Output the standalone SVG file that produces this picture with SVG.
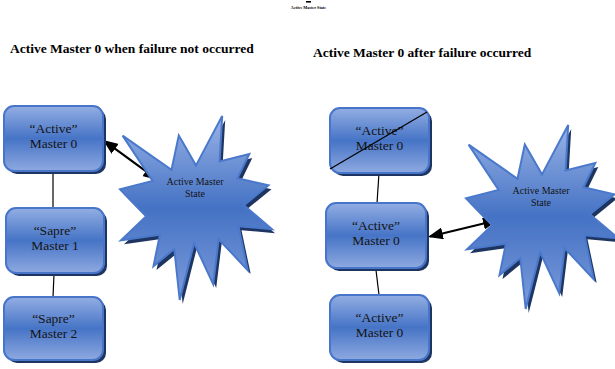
<svg xmlns="http://www.w3.org/2000/svg" width="615" height="369" viewBox="0 0 615 369">
  <style>
    .title { font-family: "Liberation Serif", "Times New Roman", serif; font-weight: bold; font-size: 13.5px; fill: #000; }
    .tiny { font-family: "Liberation Serif", "Times New Roman", serif; font-weight: bold; font-size: 4.2px; fill: #000; }
    .box { fill: url(#boxGrad); stroke: #4675c9; stroke-width: 2; }
    .shadow { fill: #1f3561; }
    .label { font-family: "Liberation Serif", "Times New Roman", serif; font-size: 13.5px; fill: #141414; text-anchor: middle; }
    .slabel { font-family: "Liberation Serif", "Times New Roman", serif; font-size: 10px; fill: #141414; text-anchor: middle; }
    .star { fill: url(#starGrad); stroke: #4a79cc; stroke-width: 2; stroke-linejoin: miter; }
    .conn { stroke: #000; stroke-width: 1.2; fill: none; }
    .arrow { stroke: #000; stroke-width: 2.2; fill: none; marker-start: url(#ah); marker-end: url(#ah); }
  </style>
  <defs>
    <linearGradient id="boxGrad" x1="0" y1="0" x2="0" y2="1">
      <stop offset="0" stop-color="#93aee3"/>
      <stop offset="0.5" stop-color="#4674c6"/>
      <stop offset="1" stop-color="#8ea9e0"/>
    </linearGradient>
    <linearGradient id="starGrad" x1="0" y1="0" x2="0" y2="1">
      <stop offset="0" stop-color="#9ab3e6"/>
      <stop offset="0.5" stop-color="#4472c4"/>
      <stop offset="1" stop-color="#7e9cdb"/>
    </linearGradient>
    <path id="seal" d="M76,49.4 L102.2,0 L99.6,45.4 L129.3,38 L117.5,62.3 L148.5,69.3 L123.9,89.2 L152,113.2 L118.5,110.2 L127.7,154.1 L98.7,123.2 L93.2,168.1 L74.1,127.2 L59.7,184 L54.3,133.1 L33.5,150.1 L39.9,118.7 L1,124.3 L26.2,100.3 L0,73.4 L32.6,64.9 L2.6,19.6 L51.5,53.8 L58.8,19.6 Z"/>
    <marker id="ah" viewBox="0 0 15 12" refX="13" refY="6" markerWidth="15" markerHeight="12" markerUnits="userSpaceOnUse" orient="auto-start-reverse">
      <path d="M0,0 L15,6 L0,12 Z" fill="#000"/>
    </marker>
  </defs>

  <rect x="306" y="1" width="5" height="1.6" fill="#000"/>
  <text class="tiny" x="308.5" y="8.5" text-anchor="middle">Active Master State</text>

  <text class="title" x="10" y="53">Active Master 0 when failure not occurred</text>
  <text class="title" x="313" y="57">Active Master 0 after failure occurred</text>

  <g id="connectors">
    <line class="conn" x1="53" y1="171" x2="53" y2="208"/>
    <line class="conn" x1="54" y1="274" x2="53" y2="297"/>
    <line class="conn" x1="379" y1="173" x2="377" y2="203"/>
    <line class="conn" x1="376" y1="270" x2="379" y2="295"/>
    <line class="arrow" x1="104.6" y1="141.2" x2="156.4" y2="178.8"/>
    <line class="arrow" x1="429.9" y1="236.5" x2="496.1" y2="220.5"/>
  </g>

  <g id="left-active-master-0">
    <rect class="shadow" x="7" y="109" width="99" height="65" rx="10"/>
    <rect class="box" x="4" y="106" width="99" height="65" rx="10"/>
    <text class="label" x="53.5" y="133">“Active”</text>
    <text class="label" x="53.5" y="148">Master 0</text>
  </g>
  <g id="left-spare-master-1">
    <rect class="shadow" x="9" y="211" width="98" height="65" rx="10"/>
    <rect class="box" x="6" y="208" width="98" height="65" rx="10"/>
    <text class="label" x="55" y="235">“Sapre”</text>
    <text class="label" x="55" y="250">Master 1</text>
  </g>
  <g id="left-spare-master-2">
    <rect class="shadow" x="7" y="300" width="99" height="63" rx="10"/>
    <rect class="box" x="4" y="297" width="99" height="63" rx="10"/>
    <text class="label" x="53.5" y="323">“Sapre”</text>
    <text class="label" x="53.5" y="338">Master 2</text>
  </g>
  <g id="left-state" transform="translate(120,116)">
    <use href="#seal" class="shadow" transform="translate(3,4)"/>
    <use href="#seal" class="star"/>
    <text class="slabel" x="75" y="69">Active Master</text>
    <text class="slabel" x="75" y="81">State</text>
  </g>

  <g id="right-failed-master-0">
    <rect class="shadow" x="333" y="111" width="99" height="65" rx="10"/>
    <rect class="box" x="330" y="108" width="99" height="65" rx="10"/>
    <text class="label" x="379.5" y="135">“Active”</text>
    <text class="label" x="379.5" y="150">Master 0</text>
    <line x1="330" y1="169" x2="427" y2="112" stroke="#000" stroke-width="1.2"/>
  </g>
  <g id="right-active-master-0">
    <rect class="shadow" x="329" y="206" width="100" height="65" rx="10"/>
    <rect class="box" x="326" y="203" width="100" height="65" rx="10"/>
    <text class="label" x="376" y="230">“Active”</text>
    <text class="label" x="376" y="245">Master 0</text>
  </g>
  <g id="right-master-0-bottom">
    <rect class="shadow" x="333" y="298" width="99" height="65" rx="10"/>
    <rect class="box" x="330" y="295" width="99" height="65" rx="10"/>
    <text class="label" x="379.5" y="322">“Active”</text>
    <text class="label" x="379.5" y="337">Master 0</text>
  </g>
  <g id="right-state" transform="translate(466,125)">
    <use href="#seal" class="shadow" transform="translate(3,4)"/>
    <use href="#seal" class="star"/>
    <text class="slabel" x="75" y="69">Active Master</text>
    <text class="slabel" x="75" y="81">State</text>
  </g>
</svg>
